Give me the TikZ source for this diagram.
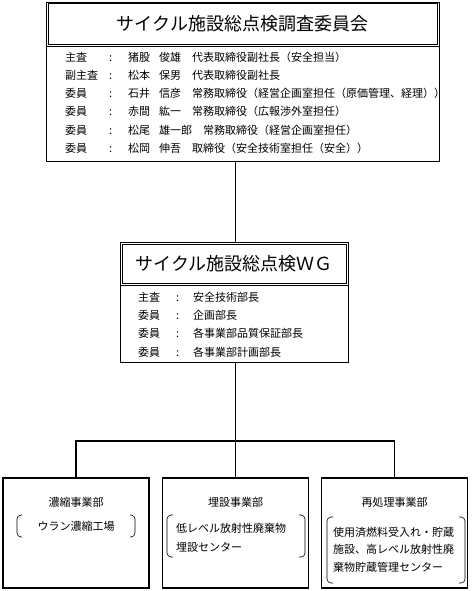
\documentclass[tikz,border=0pt]{standalone}
\usepackage{fontspec}
\setmainfont{Noto Sans CJK JP}
\usetikzlibrary{positioning, matrix, calc}

\begin{document}
\begin{tikzpicture}[x=1pt, y=-1pt,
    titlebox/.style={draw, line width=0.7pt, inner sep=0pt,
        font=\fontsize{18}{18}\selectfont},
    inframe/.style={line width=0.7pt},
    listbox/.style={draw, line width=0.8pt, inner sep=0pt},
    unitbox/.style={draw, line width=1.8pt, inner sep=0pt, minimum width=146pt, minimum height=110pt},
    link/.style={line width=1.6pt},
    brk/.style={line width=0.6pt, rounded corners=4pt},
    ]
\useasboundingbox[fill=white] (0,0) rectangle (472,591);

% committee
\node[titlebox, minimum width=393pt, minimum height=44pt] (com) at (242.5,24) {サイクル施設総点検調査委員会};
\draw[inframe] ([shift={(2.2,2.2)}]com.north west) rectangle ([shift={(-2.2,-2.2)}]com.south east);
\node[listbox, minimum width=393pt, minimum height=115pt, anchor=north] (commem) at (com.south) {};
\matrix (cm) [matrix of nodes, anchor=north west, inner sep=0pt, row sep=7.2pt,
    nodes={anchor=base west, inner sep=0pt, text height=9pt, text depth=2pt, font=\fontsize{11}{11}\selectfont},
    column 1/.style={nodes={text width=44pt}},
    column 2/.style={nodes={text width=19pt}},
    column 3/.style={nodes={text width=31pt}},
    ] at (65,52) {
    主査 & : & 猪股 & 俊雄　代表取締役副社長（安全担当） \\
    副主査 & : & 松本 & 保男　代表取締役副社長 \\
    委員 & : & 石井 & 信彦　常務取締役（経営企画室担任（原価管理、経理）） \\
    委員 & : & 赤間 & 紘一　常務取締役（広報渉外室担任） \\
    委員 & : & 松尾 & 雄一郎　常務取締役（経営企画室担任） \\
    委員 & : & 松岡 & 伸吾　取締役（安全技術室担任（安全）） \\
};

% working group
\node[titlebox, minimum width=228pt, minimum height=43pt] (wg) at (234,263.5) {サイクル施設総点検ＷＧ};
\draw[inframe] ([shift={(2.2,2.2)}]wg.north west) rectangle ([shift={(-2.2,-2.2)}]wg.south east);
\node[listbox, minimum width=228pt, minimum height=77pt, anchor=north] (wgmem) at (wg.south) {};
\matrix (wm) [matrix of nodes, anchor=north west, inner sep=0pt, row sep=7.3pt,
    nodes={anchor=base west, inner sep=0pt, text height=9pt, text depth=2pt, font=\fontsize{11}{11}\selectfont},
    column 1/.style={nodes={text width=38pt}},
    column 2/.style={nodes={text width=17pt}},
    ] at (138,292) {
    主査 & : & 安全技術部長 \\
    委員 & : & 企画部長 \\
    委員 & : & 各事業部品質保証部長 \\
    委員 & : & 各事業部計画部長 \\
};

% divisions
\node[unitbox] (b1) at (76,533) {};
\node[unitbox] (b2) at (235.5,533) {};
\node[unitbox] (b3) at (394.5,533) {};

\node[font=\fontsize{11}{11}\selectfont] (h1) at (76,502) {濃縮事業部};
\node[font=\fontsize{11}{11}\selectfont] (h2) at (235.5,502) {埋設事業部};
\node[font=\fontsize{11}{11}\selectfont] (h3) at (394.5,502) {再処理事業部};

\node[font=\fontsize{11}{11}\selectfont, inner sep=0pt] (t1) at (76,526) {ウラン濃縮工場};
\node[font=\fontsize{11}{19}\selectfont, align=left, anchor=west, inner sep=0pt] (t2) at (176,537.5) {低レベル放射性廃棄物\\埋設センター};
\node[font=\fontsize{11}{17.5}\selectfont, align=left, anchor=west, inner sep=0pt] (t3) at (333,549.5) {使用済燃料受入れ・貯蔵\\施設、高レベル放射性廃\\棄物貯蔵管理センター};

\draw[brk] (22,515) -- (17,515) -- (17,537) -- (22,537);
\draw[brk] (130,515) -- (135,515) -- (135,537) -- (130,537);
\draw[brk] (173,515) -- (167,515) -- (167,557) -- (173,557);
\draw[brk] (299,515) -- (305,515) -- (305,557) -- (299,557);
\draw[brk] (333,517) -- (327,517) -- (327,583) -- (333,583);
\draw[brk] (459,517) -- (465,517) -- (465,583) -- (459,583);

% connectors
\coordinate (hub) at (235.5,441);
\draw[link] (b2.north |- commem.south) -- (b2.north |- wg.north);
\draw[link] (b2.north |- wgmem.south) -- (b2.north);
\draw[link] (b1.north) |- (hub) -| (b3.north);
\end{tikzpicture}
\end{document}
